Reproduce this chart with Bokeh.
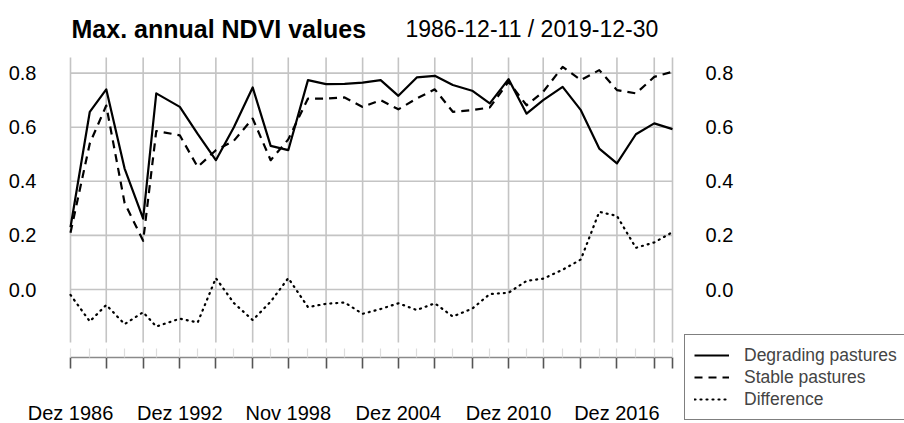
import pandas as pd
from bokeh.plotting import figure
from bokeh.models import (Range1d, FixedTicker, NumeralTickFormatter, LinearAxis, Label,
                          Legend, LegendItem, ColumnDataSource)
from bokeh.embed import file_html
from bokeh.resources import INLINE

# ---------------- data ----------------
dates = ["1986-12-11", "1988-01-02", "1988-11-27", "1989-11-30", "1990-12-07", "1991-08-27",
         "1992-12-11", "1993-12-04", "1994-12-04", "1995-11-30", "1996-12-11", "1997-12-07",
         "1998-11-25", "1999-12-25", "2000-12-22", "2001-12-29", "2002-12-25", "2003-12-22",
         "2004-12-11", "2005-12-15", "2006-12-11", "2007-12-08", "2008-12-29", "2009-12-18",
         "2010-12-29", "2011-12-26", "2012-11-23", "2013-12-18", "2014-12-18", "2015-12-22",
         "2016-12-11", "2017-12-26", "2018-12-29", "2019-12-30"]

degrading = [0.23, 0.657, 0.74, 0.447, 0.262, 0.725, 0.675, 0.575, 0.478, 0.60, 0.747, 0.531,
             0.515, 0.774, 0.759, 0.76, 0.765, 0.774, 0.716, 0.784, 0.79, 0.756, 0.735, 0.688,
             0.778, 0.65, 0.70, 0.749, 0.663, 0.521, 0.466, 0.574, 0.614, 0.593]

stable = [0.21, 0.54, 0.68, 0.32, 0.18, 0.586, 0.57, 0.453, 0.515, 0.55, 0.632, 0.478,
          0.555, 0.706, 0.706, 0.71, 0.675, 0.70, 0.666, 0.706, 0.74, 0.657, 0.663, 0.673,
          0.768, 0.681, 0.731, 0.823, 0.774, 0.811, 0.737, 0.725, 0.786, 0.805]

difference = [-0.02, -0.118, -0.057, -0.128, -0.084, -0.137, -0.108, -0.122, 0.042, -0.05,
              -0.113, -0.045, 0.042, -0.065, -0.053, -0.048, -0.09, -0.072, -0.051, -0.076,
              -0.051, -0.1, -0.071, -0.017, -0.012, 0.032, 0.04, 0.073, 0.111, 0.287, 0.272,
              0.154, 0.174, 0.212]

label_index = [0, 6, 12, 18, 24, 30]
tick_labels = ["Dez 1986", "Dez 1992", "Nov 1998", "Dez 2004", "Dez 2010", "Dez 2016"]
y_ticks = [0.0, 0.2, 0.4, 0.6, 0.8]
series_names = ["Degrading pastures", "Stable pastures", "Difference"]
title_main = "Max. annual NDVI values"
title_period = "1986-12-11 / 2019-12-30"

# ---------------- layout / styling ----------------
FONT = "Liberation Sans"
GRID_COLOR = "#c4c4c4"
W, H = 904, 423            # canvas
LEFT = 70                  # canvas x of the first date
PLOT_W = 602               # width of the time span in px
ZERO_Y = 289               # canvas y of value 0.0
PXU = 270.5                # px per NDVI unit
GRID_TOP, GRID_BOTTOM, AXIS_Y = 0.8577, -0.196, -0.2514

ms = [pd.Timestamp(d).value / 1e6 for d in dates]
k = PLOT_W / (ms[-1] - ms[0])
x_range = Range1d(ms[0] - LEFT / k, ms[-1] + (W - LEFT - PLOT_W) / k)
y_range = Range1d(-(H - ZERO_Y) / PXU, ZERO_Y / PXU)

major = ms[0::2] + [ms[-1]]
overrides = {m: "" for m in major}
for i, lab in zip(label_index, tick_labels):
    overrides[ms[i]] = lab

src = ColumnDataSource(dict(x=ms, deg=degrading, sta=stable, dif=difference))

p = figure(width=W, height=H, x_range=x_range, y_range=y_range,
           x_axis_type=None, y_axis_type=None, output_backend="svg", toolbar_location=None,
           min_border_left=0, min_border_right=0, min_border_top=0, min_border_bottom=0)
p.outline_line_color = None
p.background_fill_color = "white"
p.border_fill_color = "white"

# grid lines (limited to the plotting region)
p.segment(x0=[ms[0]] * len(y_ticks), x1=[ms[-1]] * len(y_ticks), y0=y_ticks, y1=y_ticks,
          line_color=GRID_COLOR, line_width=1.6)
p.segment(x0=major, x1=major, y0=[GRID_BOTTOM] * len(major), y1=[GRID_TOP] * len(major),
          line_color=GRID_COLOR, line_width=1.6)

r1 = p.line("x", "deg", source=src, line_color="black", line_width=2.2, line_join="round")
r2 = p.line("x", "sta", source=src, line_color="black", line_width=2.2, line_dash="8 6",
            line_join="round")
r3 = p.line("x", "dif", source=src, line_color="black", line_width=2.2, line_dash="1 5",
            line_cap="round", line_join="round")

# bottom time axis, detached below the plotting region
xaxis = LinearAxis(ticker=FixedTicker(ticks=major, minor_ticks=ms),
                   major_label_overrides=overrides, fixed_location=AXIS_Y,
                   bounds=(ms[0], ms[-1]),
                   axis_line_color="#8a8a8a", axis_line_width=1.6,
                   major_tick_line_color="#555555", major_tick_line_width=1.6,
                   major_tick_in=0, major_tick_out=11,
                   minor_tick_line_color="#dddddd", minor_tick_line_width=1.2,
                   minor_tick_in=9, minor_tick_out=0,
                   major_label_standoff=33,
                   major_label_text_font=FONT, major_label_text_font_size="20px",
                   major_label_text_color="black")
p.add_layout(xaxis, "below")

for side, loc, standoff in (("left", ms[0], 28), ("right", ms[-1], 27)):
    ax = LinearAxis(ticker=FixedTicker(ticks=y_ticks), formatter=NumeralTickFormatter(format="0.0"),
                    fixed_location=loc,
                    axis_line_color=None, major_tick_line_color=None, minor_tick_line_color=None,
                    major_label_standoff=standoff, major_label_text_font=FONT,
                    major_label_text_font_size="20px", major_label_text_color="black")
    p.add_layout(ax, side)

# title
p.add_layout(Label(x=71, y=H - 28, x_units="screen", y_units="screen", text=title_main,
                   text_font=FONT, text_font_style="bold", text_font_size="25px",
                   text_baseline="alphabetic", text_color="black"))
p.add_layout(Label(x=405, y=H - 28, x_units="screen", y_units="screen", text=title_period,
                   text_font=FONT, text_font_size="23px",
                   text_baseline="alphabetic", text_color="black"))

legend = Legend(items=[LegendItem(label=series_names[0], renderers=[r1]),
                       LegendItem(label=series_names[1], renderers=[r2]),
                       LegendItem(label=series_names[2], renderers=[r3])],
                location=(684, 3), orientation="vertical",
                label_text_font=FONT, label_text_font_size="17.5px",
                glyph_width=35, glyph_height=22, label_height=22, spacing=0,
                padding=9, margin=0, label_standoff=15,
                border_line_color="black", border_line_width=1,
                background_fill_color="white", background_fill_alpha=1.0)
p.add_layout(legend, "center")

open("out.html", "w").write(file_html(p, INLINE))
